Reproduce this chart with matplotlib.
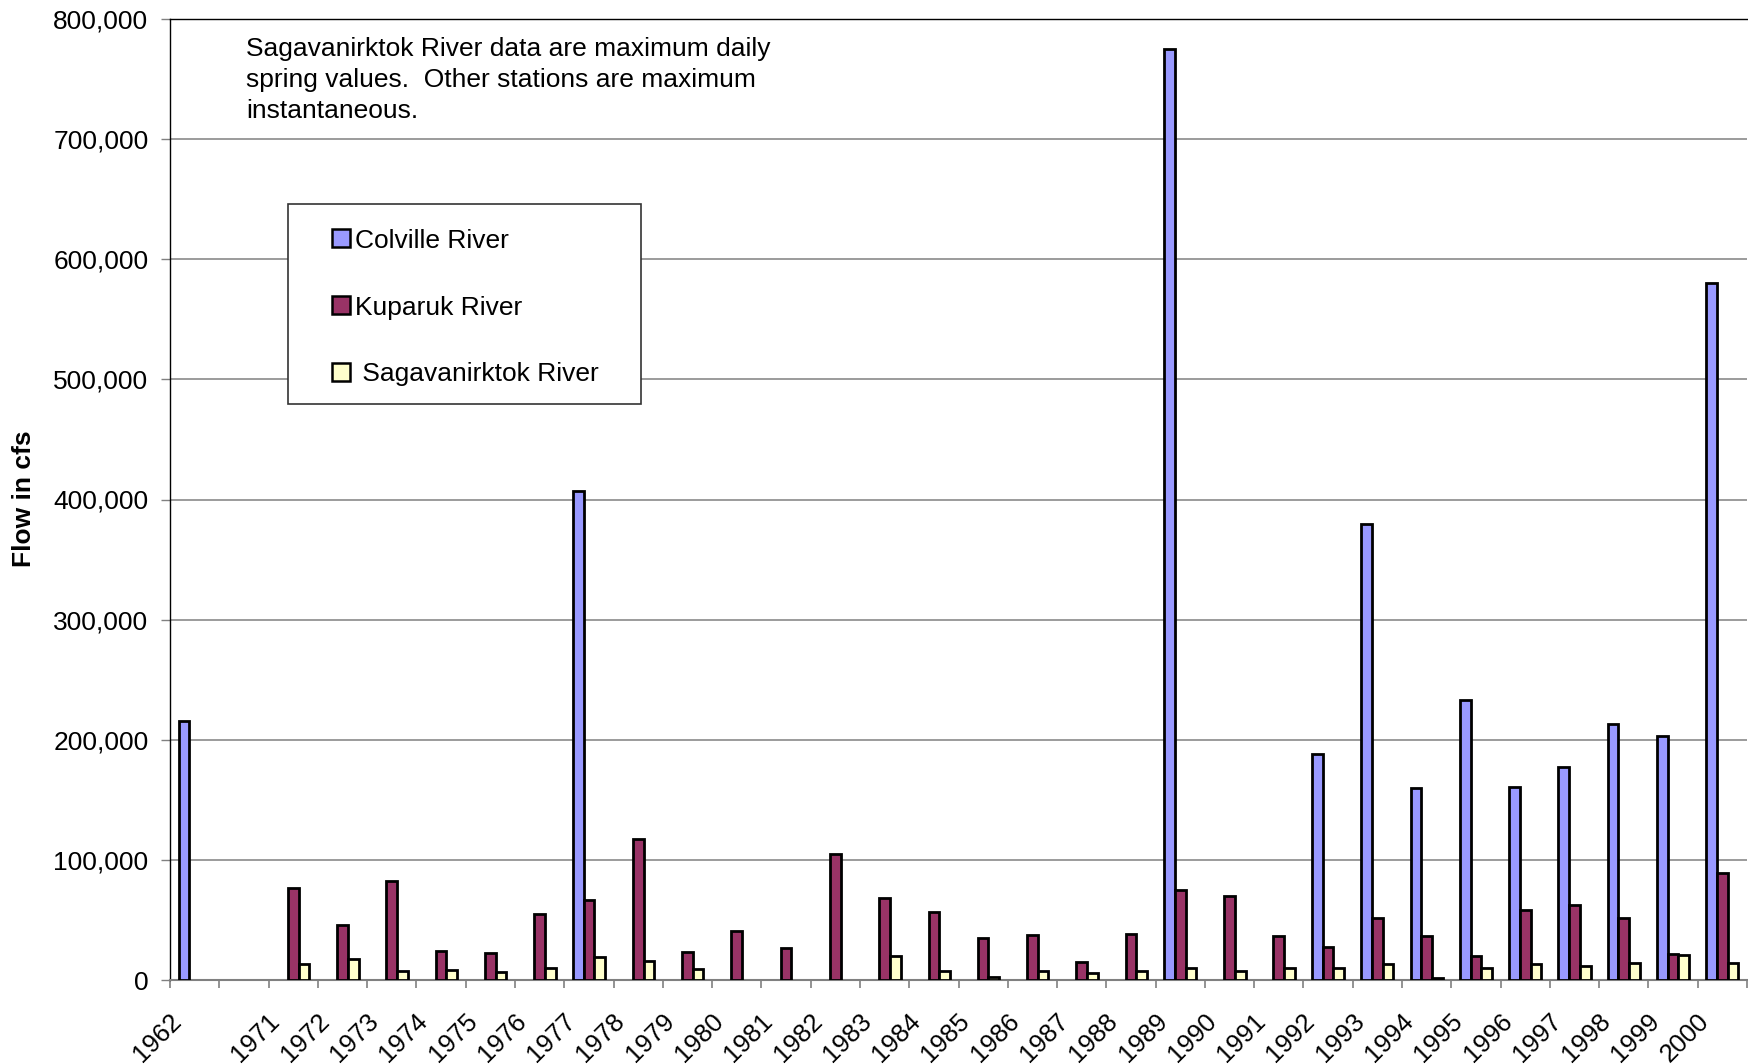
import numpy as np
import matplotlib
matplotlib.use("Agg")
import matplotlib.pyplot as plt
from matplotlib.patches import Rectangle
from matplotlib.transforms import ScaledTranslation
from matplotlib.ticker import FuncFormatter, MultipleLocator

plt.rcParams["font.family"] = ["Liberation Sans", "DejaVu Sans"]

nan = np.nan

# Water years (one blank slot separates 1962 from the continuous record)
years = ["1962", "", "1971", "1972", "1973", "1974", "1975", "1976", "1977",
         "1978", "1979", "1980", "1981", "1982", "1983", "1984", "1985",
         "1986", "1987", "1988", "1989", "1990", "1991", "1992", "1993",
         "1994", "1995", "1996", "1997", "1998", "1999", "2000"]

# Peak flows, cfs
colville = [215300, nan, nan, nan, nan, nan, nan, nan, 407400,
            nan, nan, nan, nan, nan, nan, nan, nan,
            nan, nan, nan, 775000, nan, nan, 188400, 379600,
            159600, 233000, 160600, 177300, 213500, 203200, 580000]

kuparuk = [nan, nan, 77000, 45700, 82000, 24000, 22700, 55000, 66700,
           117700, 23700, 40500, 27000, 104500, 68400, 56700, 34600,
           37700, 15000, 38300, 75000, 69800, 36900, 27700, 52000,
           36300, 20000, 58000, 62600, 51400, 22000, 88800]

sagavanirktok = [nan, nan, 13200, 17400, 7700, 8600, 6400, 10200, 19400,
                 15500, 8900, nan, nan, nan, 19600, 7300, 2200,
                 7800, 5900, 7300, 9800, 7800, 9800, 9800, 13400,
                 1400, 9800, 13400, 11700, 14500, 20700, 14500]

series = [("Colville River", colville, "#9999FF"),
          ("Kuparuk River", kuparuk, "#993366"),
          (" Sagavanirktok River", sagavanirktok, "#FFFFCC")]

FS = 19

W, H = 1748, 1064
fig = plt.figure(figsize=(W / 100, H / 100), dpi=100)
ax = fig.add_axes([170 / W, (H - 980) / H, (W - 1 - 170) / W, (980 - 19) / H])

n = len(years)
centers = np.arange(n) + 0.5
bw = 0.217
for i, (name, vals, color) in enumerate(series):
    v = np.asarray(vals, dtype=float)
    m = ~np.isnan(v)
    ax.bar(centers[m] + (i - 1) * bw, v[m], width=bw, color=color,
           edgecolor="black", linewidth=2.0, zorder=3)

ax.set_xlim(0, n)
ax.set_ylim(0, 800000)

# y axis
ax.yaxis.set_major_locator(MultipleLocator(100000))
ax.yaxis.set_major_formatter(FuncFormatter(lambda v, p: f"{int(v):,}"))
ax.tick_params(axis="y", length=6.5, width=1, color="#808080", pad=9,
               labelsize=FS)
ax.grid(axis="y", color="#808080", linewidth=1.1, zorder=0)
ax.set_axisbelow(True)

# x axis: tick marks between categories, labels at category centres
ax.set_xticks(np.arange(n + 1))
ax.set_xticklabels([])
ax.tick_params(axis="x", which="major", length=6, width=1.2, color="#808080")
ax.set_xticks(centers, years, minor=True)
ax.tick_params(axis="x", which="minor", length=0, pad=27, labelsize=18.5)
shift = ScaledTranslation(-17 / 100, 0, fig.dpi_scale_trans)
for lab in ax.get_xticklabels(minor=True):
    lab.set_rotation(45)
    lab.set_rotation_mode("anchor")
    lab.set_ha("right")
    lab.set_va("center")
    lab.set_transform(lab.get_transform() + shift)

for s in ("top", "left"):
    ax.spines[s].set_color("black")
    ax.spines[s].set_linewidth(1.0)
ax.spines["right"].set_visible(False)
ax.spines["bottom"].set_color("#808080")
ax.spines["bottom"].set_linewidth(1.5)

fig.text(24 / W, 1 - 499 / H, "Flow in cfs", rotation=90, ha="center",
         va="center", fontsize=FS, fontweight="bold")

fig.text(246 / W, 1 - 37 / H,
         "Sagavanirktok River data are maximum daily\n"
         "spring values.  Other stations are maximum\n"
         "instantaneous.",
         ha="left", va="top", fontsize=FS, linespacing=1.38)

# Legend box
def fx(x):
    return x / W

def fy(y):
    return 1 - y / H

fig.patches.append(Rectangle((fx(288), fy(404)), (641 - 288) / W, 200 / H,
                             transform=fig.transFigure, facecolor="white",
                             edgecolor="#333333", linewidth=1.2, zorder=5))
for (name, vals, color), yc in zip(series, (238, 305, 372)):
    fig.patches.append(Rectangle((fx(332), fy(yc + 9)), 18 / W, 18 / H,
                                 transform=fig.transFigure, facecolor=color,
                                 edgecolor="black", linewidth=1.8, zorder=6))
    fig.text(fx(355), fy(yc), name, ha="left", va="center_baseline",
             fontsize=FS, zorder=7)

fig.savefig("out.png", dpi=100)
